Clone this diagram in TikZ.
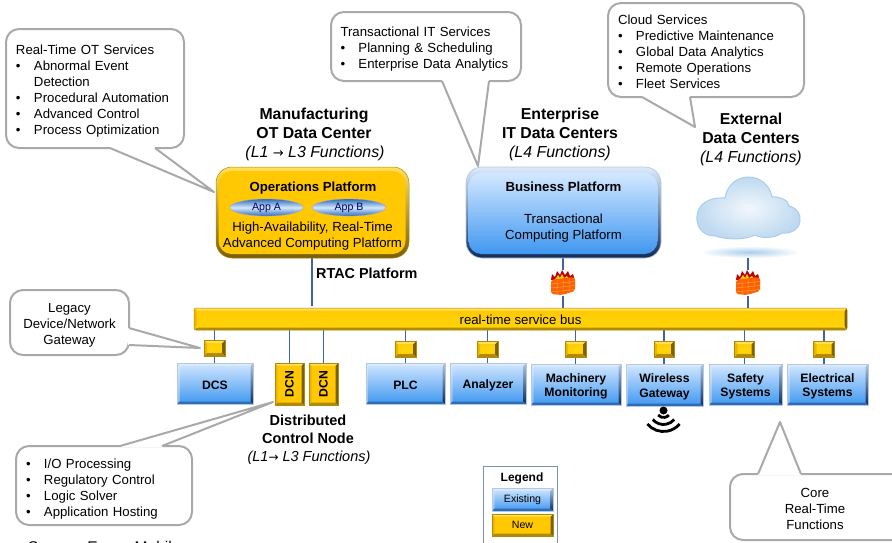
\documentclass[tikz,border=0pt]{standalone}
\usepackage{fontspec}
\setmainfont{Liberation Sans}
\newfontfamily\arrowfont{DejaVu Sans}
\usetikzlibrary{shapes.geometric,backgrounds,calc}
\definecolor{cg}{HTML}{A9A9A9}
\definecolor{wirec}{HTML}{3F659E}
\definecolor{yBase}{HTML}{FFC800}
\definecolor{yMid}{HTML}{FFD60A}
\definecolor{yTop}{HTML}{FFE05A}
\definecolor{yLeft}{HTML}{F0B400}
\definecolor{yRight}{HTML}{7A5E08}
\definecolor{yBot}{HTML}{B08A08}
\definecolor{bTop}{HTML}{D3E8FF}
\definecolor{bBot}{HTML}{3F97F0}
\definecolor{bEdge}{HTML}{B4C8E4}
\definecolor{bLeftA}{HTML}{DCEBFB}
\definecolor{bLeftB}{HTML}{86B8EE}
\definecolor{bRightA}{HTML}{A9C6E8}
\definecolor{bRightB}{HTML}{0F2C58}
\definecolor{bBotE}{HTML}{2E6DB6}
\tikzset{
 txt/.style={inner sep=0pt,align=center,font=\fontsize{13.2}{16}\selectfont},
 ttl/.style={inner sep=0pt,align=center,font=\fontsize{15.8}{19}\selectfont\bfseries},
 ttli/.style={inner sep=0pt,align=center,font=\fontsize{15.9}{19}\selectfont\itshape},
 callout/.style={draw=cg,line width=2pt,fill=white,rounded corners=13pt,inner xsep=10pt,inner ysep=0pt,align=left,font=\fontsize{13.2}{16}\selectfont,anchor=center},
 tailline/.style={draw=cg,line width=2pt,line join=round},
 wireline/.style={draw=wirec,line width=1.1pt},
 bluebevel/.style={path picture={
   \coordinate (nw) at (path picture bounding box.north west);
   \coordinate (se) at (path picture bounding box.south east);
   \coordinate (ne) at (path picture bounding box.north east);
   \coordinate (sw) at (path picture bounding box.south west);
   \shade[top color=bLeftA,bottom color=bLeftB] (nw)--(sw)--($(sw)+(#1,-#1)$)--($(nw)+(#1,#1)$)--cycle;
   \shade[top color=bRightA,bottom color=bRightB] (ne)--(se)--($(se)+(-#1,-#1)$)--($(ne)+(-#1,#1)$)--cycle;
   \fill[color=bLeftA] (nw)--(ne)--($(ne)+(-#1,#1)$)--($(nw)+(#1,#1)$)--cycle;
   \fill[color=bBotE] (sw)--(se)--($(se)+(-#1,-#1)$)--($(sw)+(#1,-#1)$)--cycle;
 }},
 yellowbevel/.style={path picture={
   \coordinate (nw) at (path picture bounding box.north west);
   \coordinate (se) at (path picture bounding box.south east);
   \coordinate (ne) at (path picture bounding box.north east);
   \coordinate (sw) at (path picture bounding box.south west);
   \fill[color=yLeft] (nw)--(sw)--($(sw)+(#1,-#1)$)--($(nw)+(#1,#1)$)--cycle;
   \fill[color=yRight] (ne)--(se)--($(se)+(-#1,-#1)$)--($(ne)+(-#1,#1)$)--cycle;
   \fill[color=yTop] (nw)--(ne)--($(ne)+(-#1,#1)$)--($(nw)+(#1,#1)$)--cycle;
   \fill[color=yBot] (sw)--(se)--($(se)+(-#1,-#1)$)--($(sw)+(#1,-#1)$)--cycle;
 }},
 bluebox/.style={rectangle,draw=bEdge,line width=.6pt,top color=bTop,bottom color=bBot,inner sep=0pt,align=center,bluebevel=2.5,font=\fontsize{12.2}{14}\selectfont\bfseries},
 yellowbox/.style={rectangle,draw=yBot,line width=.5pt,top color=yBase,bottom color=yBase,inner sep=0pt,align=center,yellowbevel=2.5,font=\fontsize{12.2}{14}\selectfont\bfseries},
 gw/.style={yellowbox,minimum width=21pt,minimum height=16pt,top color=yBase,bottom color=yBase,middle color=yMid,yellowbevel=3},
 appell/.style={ellipse,draw=white!60!blue,line width=.3pt,top color=bBotE,bottom color=bBotE,middle color=bTop,minimum width=73pt,minimum height=17pt,inner sep=0pt,font=\fontsize{10.6}{12}\selectfont,text=blue!35!black},
 opsbox/.style={draw=yBot,line width=.5pt,rounded corners=16pt,top color=yTop,bottom color=yRight,minimum width=193pt,minimum height=91pt,path picture={
   \coordinate (nw) at (path picture bounding box.north west);
   \coordinate (se) at (path picture bounding box.south east);
   \fill[color=yBase,rounded corners=13pt] ($(nw)+(2.5,4)$) rectangle ($(se)+(-3.5,-4)$);}},
 bizbox/.style={draw=bEdge,line width=.7pt,rounded corners=16pt,top color=bLeftA,bottom color=bRightB,minimum width=195pt,minimum height=91pt,align=center,inner sep=0pt,font=\fontsize{13.2}{16}\selectfont,path picture={
   \coordinate (nw) at (path picture bounding box.north west);
   \coordinate (se) at (path picture bounding box.south east);
   \shade[top color=bTop,bottom color=bBot,rounded corners=13pt] ($(nw)+(2.5,6)$) rectangle ($(se)+(-3.5,-4)$);}},
 fwbox/.style={inner sep=0pt,minimum width=25pt,minimum height=25pt},
}
% tail of a callout: base point, tip, base point
\newcommand{\calltail}[3]{%
 \fill[white] (#1)--(#2)--(#3)--cycle;
 \draw[white,line width=2.8pt] (#1)--(#3);
 \draw[tailline] (#1)--(#2)--(#3);}
\newcommand{\bul}{\makebox[18pt][l]{•}}
% invisible strut that lowers a block of text
\newcommand{\tstrut}[1]{\rule{0pt}{#1pt}}
\newcommand{\firewall}[3]{%
 \node[fwbox] (#1) at (#2,#3) {};
 \begin{scope}[shift={(#2,#3)}]
  \fill[red!75!black] (-12,-3) -- (-11,-9) -- (-8,-6) -- (-6,-12) -- (-3,-8) -- (-1,-13) -- (2,-8) -- (5,-12) -- (7,-7) -- (10,-9) -- (12,-2) -- cycle;
  \fill[yellow!70!orange] (-9,-3) -- (-7,-5) -- (-5,-8) -- (-3,-5) -- (-1,-9) -- (1,-5) -- (4,-7) -- (7,-3) -- cycle;
  \fill[orange!75!red,rounded corners=2pt] (-12,-3) -- (9,-6) -- (12,-5) -- (12,8) -- (-1,12) -- (-12,11) -- cycle;
  \draw[orange!75!white,line width=.5pt] (-12,1) -- (12,-1.5) (-12,5) -- (12,2.5) (-12,9) -- (12,6.5) (-6,-2.5) -- (-6,11) (0,-3.5) -- (0,11) (6,-4) -- (6,9);
 \end{scope}}
\begin{document}
\begin{tikzpicture}[x=1pt,y=-1pt]
\useasboundingbox (0,0) rectangle (892,542);
\clip (0,0) rectangle (892,542);

% ---------- callouts
\node[callout,text width=158pt,minimum height=119pt] (c1) at (95,88.5) {\tstrut{14}Real-Time OT Services\\\bul Abnormal Event\\\hspace*{18pt}Detection\\\bul Procedural Automation\\\bul Advanced Control\\\bul Process Optimization};
\node[callout,text width=171pt,minimum height=69pt,inner xsep=9.5pt] (c2) at (426,46.5) {\tstrut{15.5}Transactional IT Services\\\bul Planning \& Scheduling\\\bul Enterprise Data Analytics};
\node[callout,text width=176pt,minimum height=94pt] (c3) at (706,50) {\tstrut{14}Cloud Services\\\bul Predictive Maintenance\\\bul Global Data Analytics\\\bul Remote Operations\\\bul Fleet Services};
\node[callout,align=center,minimum width=119pt,minimum height=65pt,inner xsep=0pt] (c4) at (69.5,322.5) {\tstrut{14}Legacy\\Device/Network\\Gateway};
\node[callout,text width=156pt,minimum height=79pt] (c5) at (104,485.5) {\tstrut{16.5}\bul I/O Processing\\\bul Regulatory Control\\\bul Logic Solver\\\bul Application Hosting};
\node[callout,align=center,minimum width=190pt,minimum height=66pt,inner xsep=0pt] (c6) at (825,507) {\tstrut{14}\hspace*{-20pt}Core\\\hspace*{-20pt}Real-Time\\\hspace*{-20pt}Functions};

% ---------- platforms
\node[opsbox] (ops) at (312.5,212.5) {};
\node[txt,font=\fontsize{13.2}{16}\selectfont\bfseries] (opst) at (313,188) {Operations Platform};
\node[appell] (appa) at (266.5,207.5) {App A};
\node[appell] (appb) at (349,207.5) {App B};
\node[txt] (opsb) at (312.5,236) {High-Availability, Real-Time\\Advanced Computing Platform};
\node[bizbox] (biz) at (563.5,212.5) {{\bfseries Business Platform}\\[16pt]Transactional\\Computing Platform};

% ---------- titles
\node[ttl] (t1) at (314,123.5) {Manufacturing\\OT Data Center};
\node[ttli] (t1i) at (315,153.5) {(L1 {\arrowfont\fontsize{13}{16}\selectfont →} L3 Functions)};
\node[ttl] (t2) at (560,123.5) {Enterprise\\IT Data Centers};
\node[ttli] (t2i) at (560,153.5) {(L4 Functions)};
\node[ttl] (t3) at (751,128.5) {External\\Data Centers};
\node[ttli] (t3i) at (751,158.5) {(L4 Functions)};
\node[ttl,anchor=west,font=\fontsize{14.4}{16}\selectfont\bfseries] (rtac) at (316,273) {RTAC Platform};
\node[ttl,font=\fontsize{14.5}{18}\selectfont\bfseries] (t4) at (308,429) {Distributed\\Control Node};
\node[ttli,font=\fontsize{14.5}{18}\selectfont\itshape] (t4i) at (309,457.5) {(L1{\arrowfont\fontsize{12}{16}\selectfont →} L3 Functions)};

% ---------- cloud
\definecolor{cloudout}{HTML}{A9CDEB}
\definecolor{cloudin}{HTML}{F2F7FC}
\shade[inner color=cloudout,outer color=white] (750,252) ellipse [x radius=50pt,y radius=6pt];
\coordinate (cloud) at (748,258);
\path[draw=cloudout,line width=1pt,inner color=cloudin,outer color=cloudout!75!white]
  (715,236) .. controls (702,236) and (696,226) .. (697,216)
  .. controls (698,205) and (707,197) .. (725,198)
  .. controls (727,185) and (737,177) .. (748,177)
  .. controls (760,177) and (770,185) .. (772,197)
  .. controls (782,196) and (789,202) .. (789,206)
  .. controls (797,208) and (801,214) .. (800,221)
  .. controls (799,230) and (790,234) .. (782,233)
  .. controls (775,238) and (762,239) .. (755,235)
  .. controls (745,240) and (728,240) .. (715,236) -- cycle;

% ---------- bus
\node[yellowbox,rounded corners=2pt,minimum width=653pt,minimum height=22pt,font=\fontsize{13.2}{16}\selectfont,top color=yBase,bottom color=yMid] (bus) at (520.5,319) {\tstrut{11}real-time service bus};

% ---------- firewalls
\firewall{fw1}{563}{283}
\firewall{fw2}{748}{283}

% ---------- devices and gateways
\node[bluebox,minimum width=76pt,minimum height=41pt] (dcs) at (215,383.5) {\tstrut{12}DCS};
\node[yellowbox,minimum width=29pt,minimum height=42pt] (dcn1) at (289.5,384) {\rotatebox{90}{DCN}};
\node[yellowbox,minimum width=29pt,minimum height=42pt] (dcn2) at (323.5,384) {\rotatebox{90}{DCN}};
\node[bluebox,minimum width=79pt,minimum height=41pt] (plc) at (405.5,383.5) {\tstrut{12}PLC};
\node[bluebox,minimum width=76pt,minimum height=41pt] (ana) at (488,383.5) {\tstrut{12}Analyzer};
\node[bluebox,minimum width=90pt,minimum height=41pt] (mach) at (576,384.5) {\tstrut{12.5}Machinery\\Monitoring};
\node[bluebox,minimum width=77pt,minimum height=42pt] (wlan) at (664.5,385) {\tstrut{12.5}Wireless\\[1pt]Gateway};
\node[bluebox,minimum width=73pt,minimum height=41pt] (safe) at (745.5,384.5) {\tstrut{12.5}Safety\\Systems};
\node[bluebox,minimum width=81pt,minimum height=41pt] (elec) at (827.5,384.5) {\tstrut{12.5}Electrical\\Systems};
\node[gw] (g1) at (214.5,348) {};
\node[gw] (g2) at (405.5,349) {};
\node[gw] (g3) at (487.5,349) {};
\node[gw] (g4) at (575.5,349) {};
\node[gw,minimum width=20pt] (g5) at (664,349) {};
\node[gw,minimum width=20pt] (g6) at (744.5,349) {};
\node[gw] (g7) at (824,349) {};

% ---------- wifi symbol
\coordinate (wifi) at (663.5,410.5);
\fill[black] (wifi) circle (4pt);
\draw[black,line width=2.8pt] (wifi) ++(220:7pt) arc[start angle=220,end angle=320,radius=7pt];
\draw[black,line width=2.8pt] (wifi) ++(220:14pt) arc[start angle=220,end angle=320,radius=14pt];
\draw[black,line width=2.8pt] (wifi) ++(220:21pt) arc[start angle=220,end angle=320,radius=21pt];

% ---------- legend
\node[draw=wirec!70!white,line width=.7pt,minimum width=74pt,minimum height=90pt,inner sep=0pt] (leg) at (520,511) {};
\node[txt,font=\fontsize{12}{14}\selectfont\bfseries] (legt) at (522,478) {Legend};
\node[bluebox,minimum width=61pt,minimum height=23pt,font=\fontsize{10.6}{12}\selectfont] (lege) at (522.5,499.5) {\mdseries Existing};
\node[yellowbox,minimum width=61pt,minimum height=22pt,font=\fontsize{10.6}{12}\selectfont] (legn) at (522.5,525) {\mdseries New};

% ---------- source
\node[anchor=base west,inner sep=0pt,font=\fontsize{15.5}{18}\selectfont] (src) at (28,552) {Source: Exxon Mobil};

% ---------- callout tails
\coordinate (a1) at (110,148); \coordinate (a2) at (155,148); \coordinate (tip1) at (214,192);
\calltail{a1}{tip1}{a2}
\coordinate (b1) at (442,81); \coordinate (b2) at (489,81); \coordinate (tip2) at (478,166);
\calltail{b1}{tip2}{b2}
\coordinate (d1) at (642,97); \coordinate (d2) at (690,97); \coordinate (tip3) at (695,127);
\calltail{d1}{tip3}{d2}
\coordinate (e1) at (129,328); \coordinate (e2) at (129,345); \coordinate (tip4) at (200,348);
\calltail{e1}{tip4}{e2}
\coordinate (f1) at (120,446); \coordinate (f2) at (162,446); \coordinate (tip5) at (273,402);
\calltail{f1}{tip5}{f2}
\coordinate (h1) at (758,474); \coordinate (h2) at (801,474); \coordinate (tip6) at (780,422);
\calltail{h1}{tip6}{h2}

% ---------- connectors
\begin{pgfonlayer}{background}
\draw[wireline] (ops.south -| rtac.west) ++(-4,0) -- ++(0,48);
\draw[wireline] (fw1.north |- biz.south) -- (fw1.north);
\draw[wireline] (fw1.south) -- (fw1.south |- bus.north);
\draw[wireline] (fw2.north |- cloud) -- (fw2.north);
\draw[wireline] (fw2.south) -- (fw2.south |- bus.north);
\draw[wireline] (dcn1.north |- bus.south) -- (dcn1.north);
\draw[wireline] (dcn2.north |- bus.south) -- (dcn2.north);
\draw[wireline] (g1.north |- bus.south) -- (g1.north |- dcs.north);
\draw[wireline] (g2.north |- bus.south) -- (g2.north |- plc.north);
\draw[wireline] (g3.north |- bus.south) -- (g3.north |- ana.north);
\draw[wireline] (g4.north |- bus.south) -- (g4.north |- mach.north);
\draw[wireline] (g5.north |- bus.south) -- (g5.north |- wlan.north);
\draw[wireline] (g6.north |- bus.south) -- (g6.north |- safe.north);
\draw[wireline] (g7.north |- bus.south) -- (g7.north |- elec.north);
\end{pgfonlayer}
\end{tikzpicture}
\end{document}
